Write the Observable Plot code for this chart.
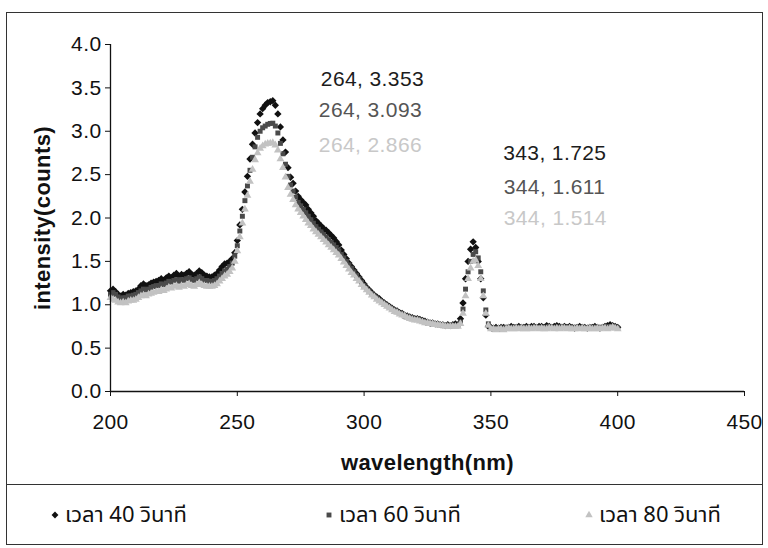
<!DOCTYPE html>
<html>
<head>
<meta charset="utf-8">
<script src="https://cdn.jsdelivr.net/npm/d3@7"></script>
<script src="https://cdn.jsdelivr.net/npm/@observablehq/plot@0.6"></script>
<style>
  body { margin: 0; background: #fff; }
  #chart { position: relative; width: 768px; height: 548px; overflow: hidden;
           font-family: "Liberation Sans", Arial, sans-serif; }
  #frame { position: absolute; left: 6px; top: 12px; width: 757px; height: 533px;
           border: 1px solid #333; box-sizing: border-box; pointer-events: none; }
  #sep { position: absolute; left: 6px; top: 484px; width: 757px; height: 0;
         border-top: 1px solid #333; }
  #legend { position: absolute; left: 0; top: 500px; width: 768px; height: 30px;
            font-family: "Noto Sans Thai", "Noto Sans", "Liberation Sans", sans-serif;
            font-size: 22px; color: #111; }
  .item { position: absolute; top: 0; height: 30px; display: flex; align-items: center;
          gap: 5px; white-space: nowrap; }
</style>
</head>
<body>
<div id="chart">
  <div id="plot"></div>
  <div id="sep"></div>
  <div id="legend"></div>
  <div id="frame"></div>
</div>
<script>
// Emission spectra, one reading per nanometre from 200 to 400 nm
const wavelengths = d3.range(200, 401);

const seriesNames = ["เวลา 40 วินาที", "เวลา 60 วินาที", "เวลา 80 วินาที"];

const int40 = [
  1.16,1.18,1.15,1.12,1.10,1.12,1.11,1.13,1.14,1.15,
  1.16,1.18,1.22,1.24,1.22,1.23,1.25,1.26,1.27,1.28,
  1.30,1.28,1.31,1.33,1.31,1.34,1.36,1.33,1.35,1.34,
  1.36,1.38,1.35,1.34,1.36,1.39,1.37,1.34,1.33,1.32,
  1.32,1.34,1.36,1.40,1.44,1.47,1.48,1.50,1.53,1.60,
  1.74,1.92,2.10,2.30,2.48,2.68,2.85,2.98,3.10,3.20,
  3.26,3.30,3.33,3.34,3.353,3.30,3.20,3.05,2.90,2.76,
  2.58,2.47,2.40,2.31,2.25,2.21,2.18,2.15,2.10,2.06,
  2.02,1.97,1.94,1.91,1.88,1.86,1.83,1.80,1.77,1.73,
  1.69,1.63,1.58,1.53,1.48,1.44,1.40,1.36,1.32,1.28,
  1.24,1.20,1.17,1.14,1.11,1.09,1.07,1.04,1.02,1.00,
  0.98,0.96,0.94,0.93,0.91,0.90,0.88,0.87,0.86,0.85,
  0.84,0.84,0.83,0.82,0.81,0.80,0.79,0.79,0.78,0.78,
  0.77,0.77,0.76,0.77,0.76,0.77,0.78,0.77,0.84,1.02,
  1.30,1.50,1.64,1.725,1.66,1.50,1.30,1.08,0.88,0.75,
  0.74,0.73,0.74,0.73,0.74,0.74,0.73,0.74,0.75,0.74,
  0.74,0.75,0.74,0.74,0.75,0.74,0.75,0.75,0.74,0.75,
  0.75,0.74,0.76,0.75,0.74,0.75,0.76,0.75,0.74,0.75,
  0.74,0.75,0.74,0.73,0.74,0.75,0.74,0.74,0.73,0.74,
  0.74,0.75,0.74,0.73,0.74,0.75,0.76,0.77,0.76,0.75,0.74
];

const int60 = [
  1.12,1.14,1.12,1.09,1.07,1.08,1.08,1.10,1.10,1.11,
  1.12,1.14,1.16,1.18,1.17,1.18,1.20,1.21,1.22,1.22,
  1.24,1.23,1.25,1.27,1.26,1.28,1.29,1.27,1.29,1.28,
  1.30,1.31,1.29,1.28,1.30,1.32,1.30,1.28,1.28,1.27,
  1.27,1.28,1.30,1.33,1.36,1.39,1.41,1.44,1.48,1.56,
  1.68,1.85,2.02,2.20,2.37,2.55,2.70,2.82,2.93,3.00,
  3.04,3.06,3.08,3.09,3.093,3.06,2.98,2.86,2.74,2.62,
  2.48,2.38,2.31,2.24,2.18,2.14,2.10,2.06,2.02,1.98,
  1.94,1.90,1.87,1.84,1.81,1.78,1.75,1.72,1.69,1.66,
  1.62,1.58,1.54,1.50,1.46,1.42,1.38,1.34,1.30,1.26,
  1.22,1.19,1.16,1.13,1.10,1.08,1.05,1.03,1.01,0.99,
  0.97,0.95,0.93,0.92,0.90,0.89,0.87,0.86,0.85,0.84,
  0.83,0.83,0.82,0.81,0.80,0.79,0.79,0.78,0.78,0.77,
  0.77,0.76,0.76,0.76,0.75,0.76,0.76,0.76,0.80,0.95,
  1.18,1.38,1.50,1.58,1.611,1.54,1.38,1.16,0.94,0.78,
  0.73,0.72,0.73,0.73,0.72,0.73,0.74,0.73,0.73,0.74,
  0.73,0.74,0.74,0.73,0.74,0.74,0.73,0.74,0.74,0.73,
  0.74,0.73,0.74,0.75,0.74,0.73,0.74,0.74,0.75,0.74,
  0.73,0.74,0.73,0.74,0.74,0.73,0.74,0.73,0.73,0.74,
  0.73,0.74,0.74,0.73,0.74,0.75,0.74,0.75,0.75,0.74,0.73
];

const int80 = [
  1.08,1.06,1.05,1.03,1.02,1.03,1.02,1.04,1.05,1.05,
  1.06,1.08,1.10,1.11,1.10,1.12,1.13,1.14,1.15,1.15,
  1.17,1.16,1.18,1.20,1.19,1.21,1.22,1.20,1.22,1.21,
  1.23,1.24,1.22,1.21,1.23,1.25,1.23,1.22,1.21,1.21,
  1.21,1.22,1.24,1.27,1.30,1.33,1.35,1.38,1.42,1.50,
  1.62,1.78,1.94,2.10,2.26,2.42,2.56,2.67,2.75,2.80,
  2.83,2.85,2.86,2.862,2.866,2.84,2.78,2.68,2.58,2.47,
  2.35,2.27,2.21,2.15,2.10,2.06,2.02,1.98,1.94,1.91,
  1.87,1.84,1.81,1.78,1.75,1.72,1.69,1.66,1.63,1.60,
  1.57,1.53,1.49,1.45,1.41,1.37,1.34,1.30,1.27,1.23,
  1.20,1.17,1.14,1.11,1.09,1.06,1.04,1.02,1.00,0.98,
  0.96,0.94,0.92,0.91,0.89,0.88,0.87,0.85,0.84,0.83,
  0.82,0.82,0.81,0.80,0.79,0.79,0.78,0.78,0.77,0.77,
  0.76,0.76,0.75,0.75,0.75,0.75,0.75,0.75,0.78,0.90,
  1.10,1.30,1.42,1.50,1.514,1.45,1.30,1.10,0.90,0.76,
  0.72,0.72,0.71,0.72,0.72,0.71,0.72,0.73,0.72,0.72,
  0.73,0.72,0.73,0.72,0.72,0.73,0.72,0.73,0.73,0.72,
  0.73,0.72,0.72,0.73,0.73,0.72,0.73,0.72,0.73,0.73,
  0.72,0.73,0.72,0.72,0.73,0.72,0.73,0.72,0.72,0.73,
  0.72,0.72,0.73,0.72,0.73,0.73,0.72,0.73,0.74,0.73,0.72
];

const xTicks = [200, 250, 300, 350, 400, 450];
const yTicks = [0, 0.5, 1, 1.5, 2, 2.5, 3, 3.5, 4];

// wavelength bands in which each peak gets a "wavelength, intensity" callout
const peakBands = [[250, 280], [330, 360]];

// ---- appearance ----
const seriesStyle = [
  { symbol: "diamond2", fill: "#111111", r: 3.3, text: "#1c1c1c" },
  { symbol: "square",   fill: "#4a4a4a", r: 2.8, text: "#555555" },
  { symbol: "triangle", fill: "#c2c2c2", r: 2.9, text: "#c8c8c8" }
];
// callout offsets from the peak point, in pixels: [band][series] -> [dx, dy]
const calloutOffset = [
  [[48, -21], [46, -13], [46, 2]],
  [[30, -89], [28, -64], [28, -42]]
];

const series = [int40, int60, int80];

function peakIn(values, lo, hi) {
  let best = null;
  values.forEach((v, j) => {
    const w = wavelengths[j];
    if (w >= lo && w <= hi && (best === null || v > best.v)) best = { w, v };
  });
  return best;
}

const marks = [];

series.forEach((values, i) => {
  const rows = values.map((v, j) => ({ w: wavelengths[j], v }));
  const st = seriesStyle[i];
  marks.push(Plot.dot(rows, {
    x: "w", y: "v", symbol: () => st.symbol, r: st.r,
    fill: st.fill, stroke: "none"
  }));
});

peakBands.forEach(([lo, hi], b) => {
  series.forEach((values, i) => {
    const p = peakIn(values, lo, hi);
    const [dx, dy] = calloutOffset[b][i];
    marks.push(Plot.text([p], {
      x: "w", y: "v",
      text: d => `${d.w}, ${d.v.toFixed(3)}`,
      dx, dy, textAnchor: "start", lineAnchor: "middle",
      fill: seriesStyle[i].text, fontSize: 21
    }));
  });
});

// axis lines
marks.push(Plot.ruleX([200], { y1: 0, y2: 4, stroke: "#111", strokeWidth: 1.3 }));
marks.push(Plot.ruleY([0], { x1: 200, x2: 450, stroke: "#111", strokeWidth: 1.3 }));

marks.push(Plot.axisX({
  ticks: xTicks, tickFormat: d3.format("d"), tickSize: 5, tickPadding: 18,
  label: null, fontSize: 21, stroke: "#111"
}));
marks.push(Plot.axisY({
  ticks: yTicks, tickFormat: d3.format(".1f"), tickSize: 5, tickPadding: 4,
  label: null, fontSize: 21, stroke: "#111"
}));

// axis titles
marks.push(Plot.text(["wavelength(nm)"], {
  frameAnchor: "bottom", dy: 71, textAnchor: "middle", lineAnchor: "middle",
  fontWeight: "bold", fontSize: 22, fill: "#111"
}));
marks.push(Plot.text(["intensity(counts)"], {
  frameAnchor: "left", dx: -68, rotate: -90, textAnchor: "middle", lineAnchor: "middle",
  fontWeight: "bold", fontSize: 22, fill: "#111"
}));

const chart = Plot.plot({
  width: 768,
  height: 485,
  marginLeft: 110,
  marginRight: 24,
  marginTop: 44,
  marginBottom: 94,
  style: { fontFamily: "'Liberation Sans', Arial, sans-serif", color: "#111", background: "transparent" },
  x: { domain: [200, 450] },
  y: { domain: [0, 4] },
  marks
});
chart.querySelectorAll("text").forEach(t => t.style.letterSpacing = "0.4px");
document.getElementById("plot").appendChild(chart);

// legend below the plot
const legendX = [50, 324, 584];
const legendSymbols = [d3.symbolDiamond2, d3.symbolSquare, d3.symbolTriangle];
const legend = document.getElementById("legend");
seriesNames.forEach((name, i) => {
  const st = seriesStyle[i];
  const item = document.createElement("div");
  item.className = "item";
  item.style.left = legendX[i] + "px";
  const sym = d3.create("svg").attr("width", 10).attr("height", 10);
  sym.append("path")
    .attr("transform", "translate(5,5)")
    .attr("d", d3.symbol(legendSymbols[i], i === 0 ? 30 : 24)())
    .attr("fill", st.fill);
  item.appendChild(sym.node());
  const label = document.createElement("span");
  label.textContent = name;
  item.appendChild(label);
  legend.appendChild(item);
});
</script>
</body>
</html>
